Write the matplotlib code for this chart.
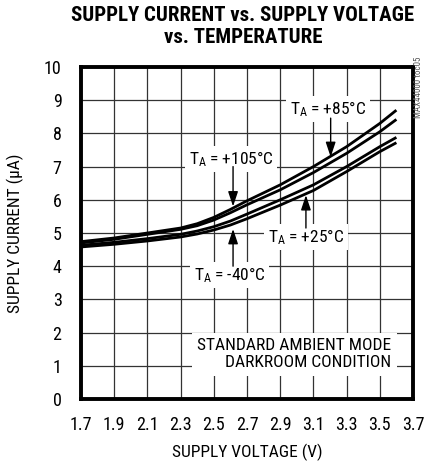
import os
import matplotlib
matplotlib.use("Agg")
import matplotlib.pyplot as plt
from matplotlib import font_manager
from matplotlib.font_manager import FontProperties

CANDIDATES = ["liberation sans narrow", "liberationsansnarrow", "roboto condensed",
              "robotocondensed", "arial narrow", "archivo narrow", "pt sans narrow"]


def wnum(w):
    if isinstance(w, int):
        return w
    return {'bold': 700, 'normal': 400, 'regular': 400}.get(str(w).lower(), 400)


def find_font(weight):
    for cand in CANDIDATES:
        best = None
        for f in font_manager.fontManager.ttflist:
            key = (f.name + " " + os.path.basename(f.fname)).lower().replace("-", "")
            if cand in key and f.style == 'normal':
                d = abs(wnum(f.weight) - weight)
                if best is None or d < best[0]:
                    best = (d, f.fname, f.name)
        if best is not None:
            return best[1], best[2]
    return None, "DejaVu Sans"

REG, REG_NAME = find_font(400)
BLD, BLD_NAME = find_font(700)


def fp(path, size):
    if path:
        return FontProperties(fname=path, size=size)
    return FontProperties(family="DejaVu Sans", size=size)

plt.rcParams['font.family'] = [REG_NAME, 'DejaVu Sans']
plt.rcParams['mathtext.fontset'] = 'custom'
plt.rcParams['mathtext.rm'] = REG_NAME
plt.rcParams['mathtext.it'] = REG_NAME

# Data
voltage = [1.7, 1.9, 2.1, 2.3, 2.4, 2.5, 2.6, 2.7, 2.9, 3.1, 3.3, 3.5, 3.6]
i_85 = [4.74, 4.85, 5.00, 5.15, 5.28, 5.47, 5.71, 5.97, 6.45, 7.00, 7.60, 8.30, 8.70]
i_105 = [4.70, 4.81, 4.96, 5.11, 5.22, 5.39, 5.61, 5.85, 6.30, 6.82, 7.40, 8.05, 8.42]
i_25 = [4.63, 4.72, 4.83, 4.96, 5.06, 5.19, 5.36, 5.57, 6.00, 6.45, 7.00, 7.60, 7.88]
i_m40 = [4.58, 4.66, 4.76, 4.88, 4.97, 5.09, 5.24, 5.43, 5.84, 6.28, 6.85, 7.45, 7.72]
x_ticks = [1.7, 1.9, 2.1, 2.3, 2.5, 2.7, 2.9, 3.1, 3.3, 3.5, 3.7]
y_ticks = [0, 1, 2, 3, 4, 5, 6, 7, 8, 9, 10]

FS = 12.5
fig = plt.figure(figsize=(4.24, 4.63), dpi=100)
ax = fig.add_axes([81/424, 64/463, 332/424, 332/463])

for series in (i_85, i_105, i_25, i_m40):
    ax.plot(voltage, series, color='black', lw=2.0, zorder=3, solid_capstyle='butt')

ax.set_xlim(1.7, 3.7)
ax.set_ylim(0, 10)
ax.set_xticks(x_ticks)
ax.set_xticklabels([f"{v:.1f}" for v in x_ticks], fontproperties=fp(REG, 13))
ax.set_yticks(y_ticks)
ax.set_yticklabels([str(v) for v in y_ticks], fontproperties=fp(REG, 13))
ax.tick_params(axis='y', length=0, pad=14)
ax.tick_params(axis='x', length=0, pad=12)
ax.grid(True, color='#333333', lw=0.9, zorder=1)
ax.set_axisbelow(True)
for s in ax.spines.values():
    s.set_linewidth(2.8)
    s.set_zorder(6)

ax.set_xlabel("SUPPLY VOLTAGE (V)", fontproperties=fp(REG, FS), labelpad=7)
ax.set_ylabel("SUPPLY CURRENT (\u03bcA)", fontproperties=fp(REG, FS), labelpad=14)

fig.text(0.573, 0.967, "SUPPLY CURRENT vs. SUPPLY VOLTAGE", ha='center', va='center',
         fontproperties=fp(BLD, 15))
fig.text(0.573, 0.918, "vs. TEMPERATURE", ha='center', va='center',
         fontproperties=fp(BLD, 15))

box = dict(facecolor='white', edgecolor='none', pad=2.5)
tk = dict(fontsize=FS, ha='center', va='center', zorder=4, bbox=box)
ax.text(3.188, 8.73, r"T$_\mathrm{A}$ = +85°C", **tk)
ax.text(2.604, 7.23, r"T$_\mathrm{A}$ = +105°C", **tk)
ax.text(3.055, 4.88, r"T$_\mathrm{A}$ = +25°C", **tk)
ax.text(2.595, 3.73, r"T$_\mathrm{A}$ = -40°C", **tk)

ap = dict(arrowstyle='-|>,head_length=0.9,head_width=0.3', color='black', lw=1.0,
          shrinkA=0, shrinkB=0)
ax.annotate("", xy=(3.204, 7.29), xytext=(3.204, 8.46), arrowprops=ap, zorder=5)
ax.annotate("", xy=(2.616, 5.80), xytext=(2.616, 7.0), arrowprops=ap, zorder=5)
ax.annotate("", xy=(3.055, 6.14), xytext=(3.055, 5.15), arrowprops=ap, zorder=5)
ax.annotate("", xy=(2.616, 5.12), xytext=(2.616, 4.0), arrowprops=ap, zorder=5)

ax.text(3.57, 1.35, "STANDARD AMBIENT MODE\nDARKROOM CONDITION",
        fontproperties=fp(REG, FS), ha='right', va='center', linespacing=1.15, zorder=4,
        bbox=dict(facecolor='white', edgecolor='none', pad=4))

fig.text(0.987, 0.812, "MAX44000 toc05", rotation=90, fontproperties=fp(REG, 6.5),
         color='#555555', ha='center', va='center')

fig.savefig("out.png", dpi=100)
